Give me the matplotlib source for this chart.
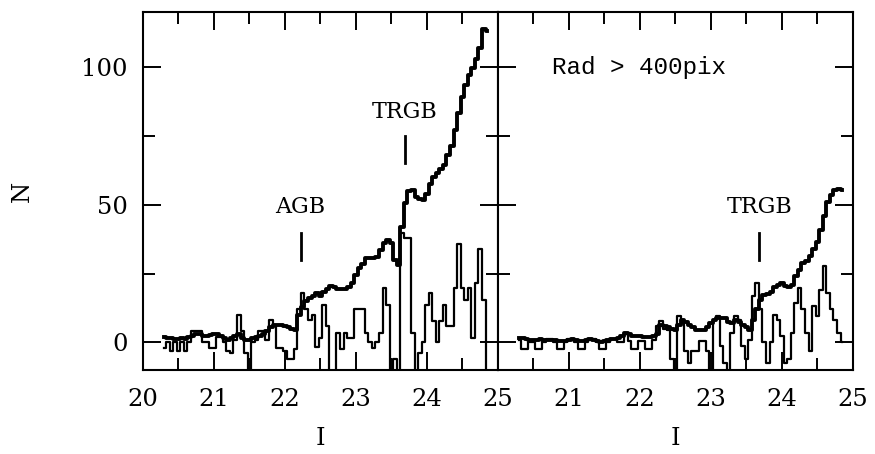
import numpy as np
import matplotlib
matplotlib.use("Agg")
import matplotlib.pyplot as plt
from matplotlib.ticker import MultipleLocator

# magnitude bins (0.05 mag), centres from 20.30 to 24.85
bin_lo, bin_hi, bin_w = 20.30, 24.85, 0.05
mag = np.round(np.arange(bin_lo, bin_hi + bin_w / 2, bin_w), 2)

# left panel: luminosity function (thick) and edge-detector response (thin)
lf_all = [
    2, 1.8, 1.5, 1.3, 1.3, 1.5, 1.3, 2, 2.5, 3,
    3, 2.5, 2.5, 2.8, 3, 3, 2.5, 1.5, 1, 1.5,
    2.5, 3, 1.5, 1, 1, 1.5, 2, 2.5, 3, 4,
    5.5, 6.5, 6.5, 6.5, 6, 5.5, 5, 4.5, 10, 13,
    15, 16, 17, 18, 17, 18.5, 19.5, 20.5, 20, 19.5,
    19.5, 19.5, 20, 21.5, 24.5, 27, 28.5, 30.5, 30.5, 30.5,
    31, 33.5, 36, 37.2, 36, 30, 28, 42, 50.5, 55,
    55.5, 53, 52, 51.6, 54, 57.5, 60, 61.5, 63, 64.5,
    68, 71.5, 77, 83.5, 89, 93.5, 97, 99.5, 103, 107,
    114, 113,
]
edge_all = [
    -2, 0, -3, 0, -3, 0, -3, 0, 4, 4,
    4, 0, 0, -2, -2, 2, 2, 0, -3, -4,
    1, 10, 4, -4, -12, 0, 1, 4, 4, 1,
    8, 6, -2, -2, -3, -6, -6, -2.5, 12, 18,
    12, 8, 10, -1.5, 1.7, 13.7, 6, -12, -12, 3.5,
    -2.5, 3.5, 1.7, 1.7, 12, 12, 12, 3.5, 0, -2,
    0, 3.5, 19.7, 13.7, -12, -6, -12, 39.6, 37.8, 37.8,
    3.5, -12, -4, 0, 13.7, 18, 7.7, 0, 7.7, 13.7,
    6, 6, 19.7, 35.7, 19.7, 15.5, 19.7, 1.7, 21.5, 33.8,
    15.5, -12,
]

# right panel: Rad > 400pix
lf_out = [
    1.7, 1.5, 1.2, 1, 0.8, 1, 1.2, 1, 1, 1,
    0.8, 0.6, 0.5, 0.5, 1, 1.2, 0.8, 0.5, 0.5, 0.8,
    1.2, 1, 0.5, 0.3, 0.5, 0.8, 1.2, 1.3, 1.5, 2.5,
    3.5, 3, 2.5, 2.5, 2.3, 2, 2, 2, 2.5, 3,
    6.5, 6, 5.5, 5, 4.7, 6.5, 8.3, 7.5, 6.5, 5.5,
    4.7, 4.7, 4.7, 5.5, 7, 8, 8.9, 8.9, 8.9, 7.5,
    7.1, 8.3, 7.5, 6.5, 5.5, 4.7, 8, 12, 15.5, 17.3,
    17.6, 18.5, 20, 21, 21.5, 20.5, 20.3, 21, 24, 26.5,
    28.8, 29.5, 31.5, 34, 36.5, 41, 46, 51, 53.5, 55.5,
    55.8, 55.2,
]
edge_out = [
    1, -2.5, -2.5, 0, 0, -2.5, -2.5, 0, 1.4, 1.4,
    0, -2.5, -2.5, 0, 1.4, 1.4, 0, -2.5, -2.5, 0,
    1.4, 1.4, 0, -2.5, -2.5, 0, 1.4, 1.4, 0, 0,
    3, 0.5, -2.5, -2.5, 0.5, 0.5, -2.5, -2.5, 1, 6,
    7.7, 5, 4.7, -6, -12, 9.5, 8, -3, -7.3, -3,
    -3, 0.5, 0.5, -3, -12, 8.3, 9.5, -1.3, -7.3, -12,
    3.5, 9.5, 8.3, -1.3, -6, 1, 16.7, 21.5, 12, 0,
    -7.3, 0, 10, 8.3, 2.3, -7.3, -6, 3.5, 14.3, 19.7,
    12, 3.5, -3, 13.1, 9.5, 19.1, 27.6, 17.9, 12, 8.3,
    3.5, 0,
]

# marker positions: (label, I, text baseline N, tick bottom, tick top)
marks_all = [("AGB", 22.22, 47, 30, 39.7), ("TRGB", 23.69, 81.6, 65.3, 75)]
marks_out = [("TRGB", 23.68, 47, 30, 39.7)]

xticks = [20, 21, 22, 23, 24, 25]
xlabels_left = ["20", "21", "22", "23", "24", "25"]
xlabels_right = ["", "21", "22", "23", "24", "25"]
yticks = [0, 50, 100]

SERIF = "DejaVu Serif"
TICK_FS = 17.5
MARK_FS = 16

fig = plt.figure(figsize=(8.75, 4.54), dpi=100)
ax1 = fig.add_axes([0.1634, 0.185, 0.4057, 0.7885])
ax2 = fig.add_axes([0.5691, 0.185, 0.4057, 0.7885])


def style_axes(ax, xlabels, show_y):
    ax.set_xlim(20, 25)
    ax.set_ylim(-10, 120)
    ax.xaxis.set_major_locator(MultipleLocator(1))
    ax.xaxis.set_minor_locator(MultipleLocator(0.5))
    ax.yaxis.set_major_locator(MultipleLocator(50))
    ax.yaxis.set_minor_locator(MultipleLocator(25))
    ax.set_xticks(xticks)
    ax.set_xticklabels(xlabels, fontfamily=SERIF, fontsize=TICK_FS)
    ax.set_yticks(yticks)
    if show_y:
        ax.set_yticklabels([str(v) for v in yticks], fontfamily=SERIF, fontsize=TICK_FS)
    else:
        ax.set_yticklabels([])
    ax.tick_params(which="both", direction="in", top=True, right=True, width=1.4, colors="black")
    ax.tick_params(which="major", length=13)
    ax.tick_params(which="minor", length=8.5)
    ax.tick_params(axis="x", which="major", pad=13)
    ax.tick_params(axis="y", which="major", pad=11)
    for sp in ax.spines.values():
        sp.set_linewidth(1.5)


def draw_panel(ax, lf, edge, marks):
    ax.step(mag, edge, where="mid", color="black", linewidth=1.6)
    ax.step(mag, lf, where="mid", color="black", linewidth=2.8)
    for label, x, ytxt, y0, y1 in marks:
        ax.text(x, ytxt, label, ha="center", va="baseline",
                fontfamily=SERIF, fontsize=MARK_FS)
        ax.plot([x, x], [y0, y1], color="black", linewidth=2.0)


draw_panel(ax1, lf_all, edge_all, marks_all)
draw_panel(ax2, lf_out, edge_out, marks_out)
style_axes(ax1, xlabels_left, True)
style_axes(ax2, xlabels_right, False)

ax2.text(20.76, 97.5, "Rad > 400pix", ha="left", va="baseline",
         fontfamily="Liberation Mono", fontsize=17.5)

fig.text(0.026, 0.579, "N", rotation=90, ha="center", va="center",
         fontfamily=SERIF, fontsize=TICK_FS)
fig.text(0.366, 0.035, "I", ha="center", va="center", fontfamily=SERIF, fontsize=TICK_FS)
fig.text(0.772, 0.035, "I", ha="center", va="center", fontfamily=SERIF, fontsize=TICK_FS)

fig.savefig("out.png", dpi=100, facecolor="white")
plt.close(fig)
